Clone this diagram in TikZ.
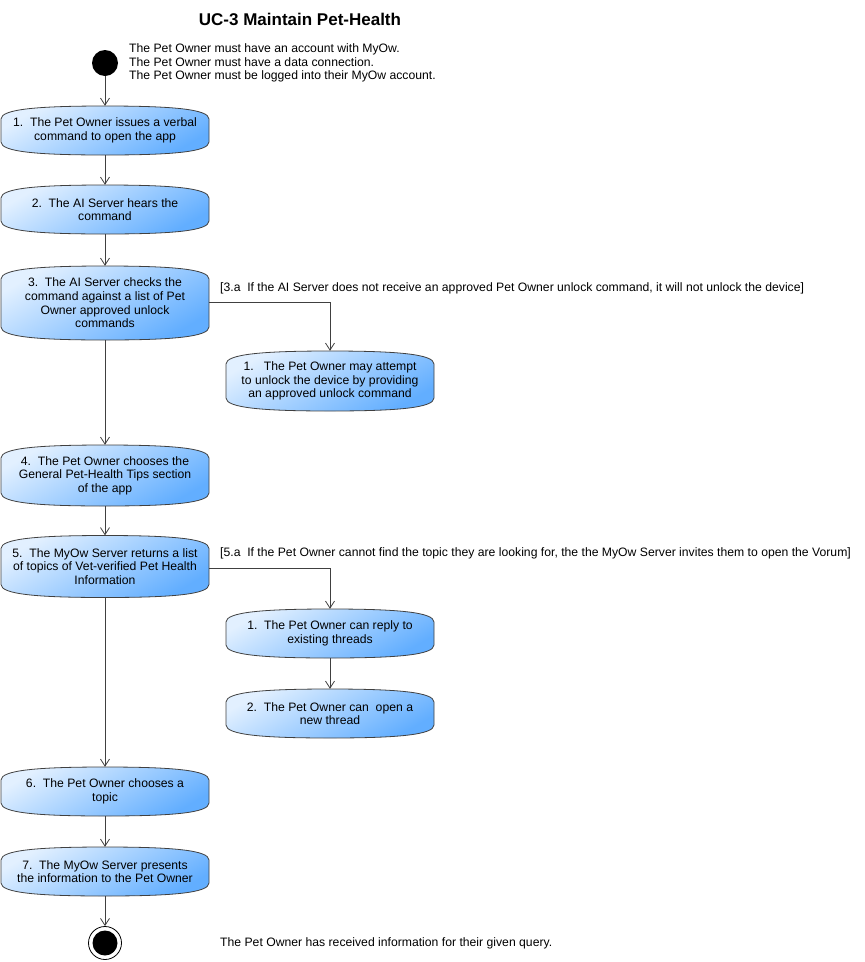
\documentclass[tikz,border=0pt]{standalone}
\usepackage{fontspec}
\setmainfont{Liberation Sans}
\usetikzlibrary{arrows.meta}
\definecolor{boxlight}{HTML}{E2F0FF}
\definecolor{boxdark}{HTML}{62AEFF}
\definecolor{edgegray}{HTML}{404040}
\tikzset{
  actbg/.style={draw=edgegray, line width=0.8pt,
    top color=boxlight, bottom color=boxdark, shading angle=30},
  act/.style={minimum width=208pt, align=center, inner sep=2pt,
    font=\fontsize{12.2}{13.6}\selectfont},
  flow/.style={draw=edgegray, line width=0.8pt, -{Straight Barb[length=7pt,width=9pt]}},
  plain/.style={font=\fontsize{12.2}{13.6}\selectfont, inner sep=0pt, anchor=west, align=left},
}
\newcommand{\actnode}[5]{%
  \path[actbg] ({#2-104},{#3-#4/2+13}) .. controls ({#2-104},{#3-#4/2+3}) and ({#2-66},{#3-#4/2}) .. ({#2},{#3-#4/2})
    .. controls ({#2+66},{#3-#4/2}) and ({#2+104},{#3-#4/2+3}) .. ({#2+104},{#3-#4/2+13})
    -- ({#2+104},{#3+#4/2-13}) .. controls ({#2+104},{#3+#4/2-3}) and ({#2+66},{#3+#4/2}) .. ({#2},{#3+#4/2})
    .. controls ({#2-66},{#3+#4/2}) and ({#2-104},{#3+#4/2-3}) .. ({#2-104},{#3+#4/2-13}) -- cycle;
  \node[act, minimum height=#4pt] (#1) at (#2,#3) {#5};}
\begin{document}
\begin{tikzpicture}[x=1pt,y=-1pt]
\useasboundingbox (0,0) rectangle (865,962);
\node[font=\bfseries\fontsize{17}{20}\selectfont] (title) at (300,19) {UC-3 Maintain Pet-Health};
\node[circle, fill=black, minimum size=26pt, inner sep=0pt] (start) at (105,63) {};
\node[plain] (pre) at (129,63) {The Pet Owner must have an account with MyOw.\\The Pet Owner must have a data connection.\\The Pet Owner must be logged into their MyOw account.};

\actnode{b1}{105}{130.5}{49}{1.\ \ The Pet Owner issues a verbal\\command to open the app}
\actnode{b2}{105}{209.5}{49}{2.\ \ The AI Server hears the\\command}
\actnode{b3}{105}{303}{74}{3.\ \ The AI Server checks the\\command against a list of Pet\\Owner approved unlock\\commands}
\actnode{a31}{330}{381}{60}{1.\ \ \ The Pet Owner may attempt\\to unlock the device by providing\\an approved unlock command}
\actnode{b4}{105}{475.5}{61}{4.\ \ The Pet Owner chooses the\\General Pet-Health Tips section\\of the app}
\actnode{b5}{105}{566.5}{62}{5.\ \ The MyOw Server returns a list\\of topics of Vet-verified Pet Health\\Information}
\actnode{a51}{330}{633.5}{49}{1.\ \ The Pet Owner can reply to\\existing threads}
\actnode{a52}{330}{713.5}{49}{2.\ \ The Pet Owner can\ \ open a\\new thread}
\actnode{b6}{105}{791.5}{49}{6.\ \ The Pet Owner chooses a\\topic}
\actnode{b7}{105}{871.5}{49}{7.\ \ The MyOw Server presents\\the information to the Pet Owner}

\node[circle, draw=black, line width=0.8pt, fill=white, minimum size=33pt, inner sep=0pt] (end) at (105,943) {};
\node[circle, fill=black, minimum size=25pt, inner sep=0pt] (endin) at (end) {};
\node[plain] (post) at (220,943) {The Pet Owner has received information for their given query.};

\node[plain] (c3) at (220,288) {[3.a\ \ If the AI Server does not receive an approved Pet Owner unlock command, it will not unlock the device]};
\node[plain] (c5) at (220,553) {[5.a\ \ If the Pet Owner cannot find the topic they are looking for, the the MyOw Server invites them to open the Vorum]};

\draw[flow] (start) -- (b1);
\draw[flow] (b1) -- (b2);
\draw[flow] (b2) -- (b3);
\draw[flow] (b3) -- (b4);
\draw[flow] (b3.east |- 0,302) -| (a31.north);
\draw[flow] (b4) -- (b5);
\draw[flow] (b5) -- (b6);
\draw[flow] (b5.east |- 0,568) -| (a51.north);
\draw[flow] (a51) -- (a52);
\draw[flow] (b6) -- (b7);
\draw[flow] (b7) -- (end);
\end{tikzpicture}
\end{document}
